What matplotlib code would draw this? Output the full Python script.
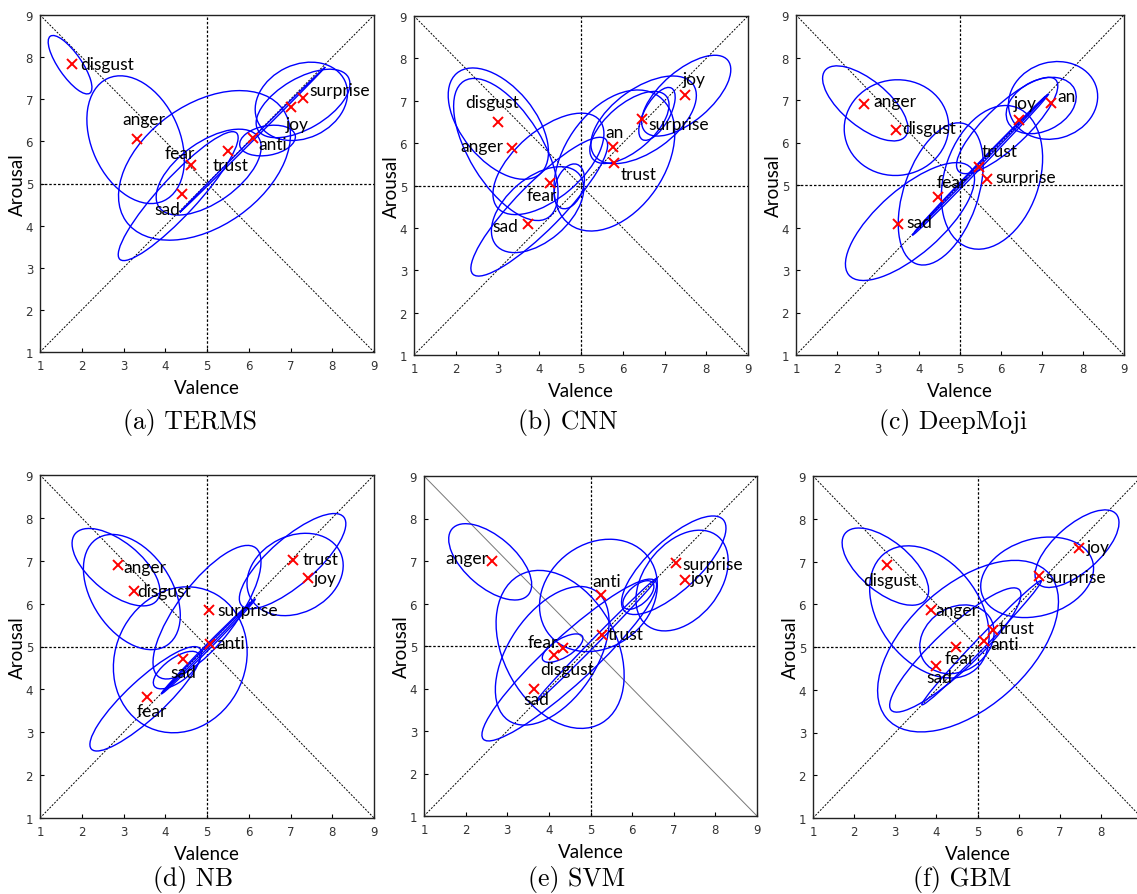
import matplotlib
matplotlib.use("Agg")
import matplotlib.pyplot as plt
from matplotlib.patches import Ellipse

LABEL_FONT = ["Lato", "DejaVu Sans"]

# ---- (a) TERMS ----
terms_emo = ["disgust", "anger", "fear", "sad", "trust", "anti", "joy", "surprise"]
terms_val = [1.76, 3.32, 4.61, 4.39, 5.51, 6.09, 7.00, 7.29]
terms_aro = [7.84, 6.06, 5.44, 4.74, 5.78, 6.07, 6.81, 7.03]
terms_ex = [1.72, 3.29, 4.94, 5.04, 4.31, 6.45, 6.09, 7.26, 7.30]
terms_ey = [7.82, 6.04, 5.43, 5.27, 4.70, 6.02, 6.04, 6.95, 6.90]
terms_ew = [1.65, 3.2, 4.6, 2.9, 4.1, 1.35, 4.9, 2.3, 2.5]
terms_eh = [0.55, 2.1, 2.9, 1.44, 0.9, 0.7, 0.05, 1.75, 1.2]
terms_ea = [-55, -65, 35, 35, 47, 10, 44.7, 25, 30]

# ---- (b) CNN ----
cnn_emo = ["disgust", "anger", "fear", "sad", "an", "trust", "surprise", "joy"]
cnn_val = [3.00, 3.34, 4.25, 3.74, 5.76, 5.80, 6.46, 7.50]
cnn_aro = [6.50, 5.89, 5.06, 4.09, 5.91, 5.53, 6.56, 7.13]
cnn_ex = [3.02, 3.20, 4.22, 3.96, 4.72, 4.00, 5.80, 6.16, 6.50, 7.52, 6.82]
cnn_ey = [6.46, 5.85, 5.51, 4.43, 4.98, 4.50, 5.59, 6.37, 6.55, 7.12, 6.69]
cnn_ew = [3.1, 3.8, 3.2, 2.6, 1.1, 4.5, 3.7, 2.3, 2.9, 2.6, 1.4]
cnn_eh = [1.75, 1.75, 1.6, 1.5, 0.66, 1.1, 2.4, 1.1, 1.5, 1.2, 0.6]
cnn_ea = [-50, -58, 40, 40, 70, 45, 55, 40, 35, 40, 60]

# ---- (c) DeepMoji ----
dm_emo = ["anger", "disgust", "sad", "fear", "trust", "surprise", "joy", "an"]
dm_val = [2.67, 3.44, 3.49, 4.46, 5.47, 5.65, 6.43, 7.21]
dm_aro = [6.90, 6.30, 4.08, 4.72, 5.43, 5.14, 6.53, 6.94]
dm_ex = [2.69, 3.45, 3.78, 4.53, 5.78, 6.15, 7.27, 6.98, 5.50, 5.50]
dm_ey = [6.92, 6.35, 4.14, 4.79, 5.18, 6.40, 6.99, 6.87, 5.48, 5.50]
dm_ew = [2.5, 2.55, 3.9, 3.5, 3.5, 3.2, 2.2, 1.8, 4.7, 4.5]
dm_eh = [1.1, 2.25, 1.55, 1.8, 2.3, 1.0, 1.8, 1.2, 0.12, 0.05]
dm_ea = [-38, 5, 40, 70, 70, 42, 15, 25, 45, 45]

# ---- (d) NB ----
nb_emo = ["anger", "disgust", "surprise", "anti", "sad", "fear", "trust", "joy"]
nb_val = [2.88, 3.24, 5.05, 5.06, 4.42, 3.57, 7.07, 7.43]
nb_aro = [6.89, 6.29, 5.85, 5.06, 4.71, 3.83, 7.02, 6.60]
nb_ex = [2.82, 3.20, 5.00, 4.36, 4.27, 3.53, 5.03, 5.00, 7.11, 7.05]
nb_ey = [6.85, 6.27, 5.80, 4.69, 4.45, 3.78, 5.00, 4.98, 6.68, 6.99]
nb_ew = [2.5, 3.0, 3.8, 3.5, 1.3, 3.5, 3.15, 3.0, 2.4, 3.2]
nb_eh = [1.2, 1.9, 1.4, 3.1, 0.56, 0.9, 0.12, 0.05, 1.8, 1.1]
nb_ea = [-38, -55, 52, 60, 35, 42, 44.5, 44.5, 25, 40]

# ---- (e) SVM ----
svm_emo = ["anger", "anti", "surprise", "joy", "trust", "fear", "disgust", "sad"]
svm_val = [2.64, 5.25, 7.06, 7.26, 5.27, 4.33, 4.13, 3.65]
svm_aro = [7.00, 6.21, 6.96, 6.56, 5.27, 4.95, 4.80, 3.99]
svm_ex = [2.59, 4.27, 5.19, 4.08, 4.33, 4.49, 5.15, 7.00, 7.20, 6.15]
svm_ey = [6.98, 4.92, 6.19, 4.77, 4.95, 4.67, 5.15, 6.90, 6.54, 6.20]
svm_ew = [2.4, 4.0, 3.0, 3.7, 1.1, 5.56, 4.1, 3.2, 2.7, 0.9]
svm_eh = [1.2, 2.7, 2.45, 2.1, 0.44, 1.1, 0.15, 1.2, 1.8, 0.45]
svm_ea = [-40, -60, 35, 55, 30, 42, 45, 42, 50, 40]

# ---- (f) GBM ----
gbm_emo = ["disgust", "anger", "trust", "anti", "fear", "sad", "surprise", "joy"]
gbm_val = [2.80, 3.88, 5.37, 5.15, 4.48, 4.00, 6.50, 7.46]
gbm_aro = [6.92, 5.86, 5.39, 5.13, 4.99, 4.56, 6.65, 7.32]
gbm_ex = [2.76, 3.83, 4.77, 4.50, 4.46, 5.10, 6.45, 7.42]
gbm_ey = [6.88, 5.82, 5.02, 5.18, 4.93, 5.10, 6.63, 7.30]
gbm_ew = [2.5, 3.5, 5.2, 1.9, 4.2, 4.1, 2.8, 2.5]
gbm_eh = [1.2, 2.4, 2.9, 1.5, 1.0, 0.25, 1.8, 1.1]
gbm_ea = [-38, -50, 40, 30, 42, 45, 15, 40]

captions = ["(a) TERMS", "(b) CNN", "(c) DeepMoji", "(d) NB", "(e) SVM", "(f) GBM"]

# label placement: (dx, dy, ha) relative to each marker
terms_lab = [(.20, 0, "left"), (.17, .47, "center"), (-.25, .29, "center"), (-.34, -.34, "center"),
             (.06, -.33, "center"), (.14, -.13, "left"), (.16, -.39, "center"), (.16, .20, "left")]
cnn_lab = [(-.14, .47, "center"), (-.20, .05, "right"), (-.20, -.28, "center"), (-.24, -.04, "right"),
           (.04, .35, "center"), (.16, -.27, "left"), (.16, -.10, "left"), (.21, .39, "center")]
dm_lab = [(.22, .08, "left"), (.16, .03, "left"), (.21, .06, "left"), (.34, .34, "center"),
          (.49, .36, "center"), (.22, .04, "left"), (.16, .41, "center"), (.17, .16, "left")]
nb_lab = [(.12, -.03, "left"), (.08, 0, "left"), (.20, 0, "left"), (.17, .02, "left"),
          (.01, -.31, "center"), (.10, -.33, "center"), (.21, .03, "left"), (.12, 0, "left")]
svm_lab = [(-.09, .07, "right"), (.13, .33, "center"), (.15, -.02, "left"), (.14, .04, "left"),
           (.15, .02, "left"), (-.12, .15, "right"), (.32, -.34, "center"), (.04, -.24, "center")]
gbm_lab = [(.08, -.36, "center"), (.09, 0, "left"), (.14, .06, "left"), (.16, -.06, "left"),
           (.08, -.24, "center"), (.08, -.27, "center"), (.15, -.02, "left"), (.19, .01, "left")]

W, H = 1137, 895
# axes boxes in pixels: left, top, right, bottom
boxes = [(40, 16, 374, 353), (414, 17, 748, 356), (796, 16, 1124, 356),
         (40, 476, 374, 819), (424, 477, 757, 817), (813, 477, 1142, 819)]
cap_pos = [(190, 423), (568, 423), (953, 423), (193, 880), (577, 880), (962, 880)]
# anti-diagonal drawn solid grey in the SVM panel
anti_diag = [("k", (0, (2, 1.5)))] * 4 + [("#777777", "-"), ("k", (0, (2, 1.5)))]
# last panel is cut at the figure edge, so its "9" is not shown
xmax_tick = [9, 9, 9, 9, 9, 8]

panels = [
    (terms_emo, terms_val, terms_aro, terms_ex, terms_ey, terms_ew, terms_eh, terms_ea, terms_lab),
    (cnn_emo, cnn_val, cnn_aro, cnn_ex, cnn_ey, cnn_ew, cnn_eh, cnn_ea, cnn_lab),
    (dm_emo, dm_val, dm_aro, dm_ex, dm_ey, dm_ew, dm_eh, dm_ea, dm_lab),
    (nb_emo, nb_val, nb_aro, nb_ex, nb_ey, nb_ew, nb_eh, nb_ea, nb_lab),
    (svm_emo, svm_val, svm_aro, svm_ex, svm_ey, svm_ew, svm_eh, svm_ea, svm_lab),
    (gbm_emo, gbm_val, gbm_aro, gbm_ex, gbm_ey, gbm_ew, gbm_eh, gbm_ea, gbm_lab),
]

LO, HI, MID = 1, 9, 5

fig = plt.figure(figsize=(W / 100, H / 100), dpi=100)

for i, (emo, val, aro, ex, ey, ew, eh, ea, lab) in enumerate(panels):
    l, t, r, b = boxes[i]
    ax = fig.add_axes([l / W, 1 - b / H, (r - l) / W, (b - t) / H])
    ax.set_xlim(LO, HI)
    ax.set_ylim(LO, HI)

    # reference lines
    ax.axvline(MID, color="k", lw=0.9, ls=(0, (2, 1.5)), zorder=1)
    ax.axhline(MID, color="k", lw=0.9, ls=(0, (2, 1.5)), zorder=1)
    ax.plot([LO, HI], [LO, HI], color="k", lw=0.7, ls=(0, (2, 1.5)), zorder=1)
    dcol, dls = anti_diag[i]
    ax.plot([LO, HI], [HI, LO], color=dcol, lw=0.7, ls=dls, zorder=1)

    for cx, cy, w, h, a in zip(ex, ey, ew, eh, ea):
        ax.add_patch(Ellipse((cx, cy), w, h, angle=a, fill=False,
                             edgecolor="#0000ff", lw=1.0, zorder=2))

    ax.plot(val, aro, "x", color="red", ms=7, mew=1.4, zorder=4)
    for name, x, y, (dx, dy, ha) in zip(emo, val, aro, lab):
        ax.text(x + dx, y + dy, name, ha=ha, va="center", fontsize=12.5,
                family=LABEL_FONT, color="k", zorder=5)

    ax.set_xticks(range(LO, xmax_tick[i] + 1))
    ax.set_yticks(range(LO, HI + 1))
    ax.tick_params(direction="in", length=3, labelsize=8.5, labelcolor="#333333",
                   top=False, right=False, pad=5)
    for sp in ax.spines.values():
        sp.set_linewidth(1.0)
        sp.set_color("#222222")
    ax.set_xlabel("Valence", fontsize=13.5, family=LABEL_FONT, labelpad=5)
    ax.set_ylabel("Arousal", fontsize=13.5, family=LABEL_FONT, labelpad=0)

    cx, cy = cap_pos[i]
    fig.text(cx / W, 1 - cy / H, captions[i], ha="center", va="center",
             fontsize=18.5, family="cmr10")

fig.savefig("out.png", dpi=100)
